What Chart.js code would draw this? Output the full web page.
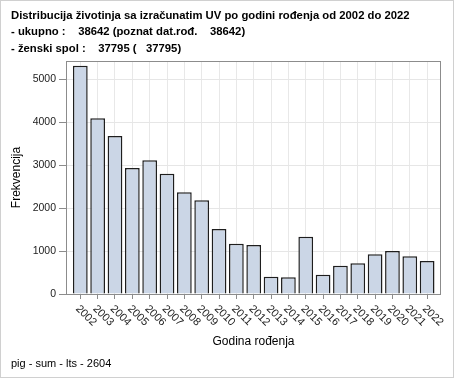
<!DOCTYPE html>
<html>
<head>
<meta charset="utf-8">
<script src="https://cdn.jsdelivr.net/npm/chart.js@4"></script>
<style>
  body { margin: 0; background: #fff; }
  canvas { display: block; }
</style>
</head>
<body>
<canvas id="chart" width="454" height="378"></canvas>
<script>
// ---------- data ----------
const years = [2002, 2003, 2004, 2005, 2006, 2007, 2008, 2009, 2010, 2011, 2012,
               2013, 2014, 2015, 2016, 2017, 2018, 2019, 2020, 2021, 2022];
const counts = [5310, 4086, 3674, 2930, 3109, 2798, 2364, 2178, 1512, 1171, 1140,
                403, 388, 1333, 449, 658, 713, 922, 1000, 876, 767];
const yTicks = [0, 1000, 2000, 3000, 4000, 5000];

const titleLines = [
  'Distribucija životinja sa izračunatim UV po godini rođenja od 2002 do 2022',
  '- ukupno :    38642 (poznat dat.rođ.    38642)',
  '- ženski spol :    37795 (   37795)'
];
const xTitle = 'Godina rođenja';
const yTitle = 'Frekvencija';
const footnote = 'pig - sum - lts - 2604';

const FONT = "'Liberation Sans', Arial, sans-serif";

/* ---------- extra drawing: titles, frame, rotated year labels ---------- */
const decorations = {
  id: 'decorations',
  afterDraw(chart){
    const ctx = chart.ctx;
    const a = chart.chartArea;
    const xs = chart.scales.x;
    ctx.save();

    // outer border
    ctx.strokeStyle = '#d0d0d0';
    ctx.lineWidth = 1;
    ctx.strokeRect(0.5, 0.5, chart.width - 1, chart.height - 1);

    // plot frame
    ctx.strokeStyle = '#8c8c8c';
    ctx.strokeRect(Math.round(a.left) + 0.5, Math.round(a.top) + 0.5,
                   Math.round(a.right - a.left) - 1, Math.round(a.bottom - a.top));

    // title
    ctx.fillStyle = '#000';
    ctx.textAlign = 'left';
    ctx.textBaseline = 'middle';
    ctx.font = 'bold 11.3px ' + FONT;
    titleLines.forEach((t, i) => ctx.fillText(t, 11, 16 + i * 16.3));

    // rotated year labels
    ctx.font = '11px ' + FONT;
    ctx.fillStyle = '#222';
    years.forEach(y => {
      const px = xs.getPixelForValue(y);
      ctx.save();
      ctx.translate(px - 3, a.bottom + 13);
      ctx.rotate(Math.PI / 4);
      ctx.fillText(String(y), 0, 0);
      ctx.restore();
    });

    // x axis title
    ctx.font = '12px ' + FONT;
    ctx.fillStyle = '#000';
    ctx.textAlign = 'center';
    ctx.fillText(xTitle, (a.left + a.right) / 2, 342);

    // footnote
    ctx.font = '11px ' + FONT;
    ctx.textAlign = 'left';
    ctx.fillText(footnote, 11, 364);

    ctx.restore();
  }
};

new Chart(document.getElementById('chart'), {
  type: 'bar',
  data: {
    datasets: [{
      data: years.map((y, i) => ({ x: y, y: counts[i] })),
      backgroundColor: '#cbd6e6',
      borderColor: '#1e1e1e',
      borderWidth: 1.5,
      barPercentage: 0.85,
      categoryPercentage: 1
    }]
  },
  options: {
    responsive: false,
    animation: false,
    layout: { padding: { top: 61, right: 13, bottom: 0, left: 0 } },
    plugins: {
      legend: { display: false },
      title: { display: false },
      tooltip: { enabled: false }
    },
    scales: {
      x: {
        type: 'linear',
        offset: false,
        min: 2001.175,
        max: 2022.8,
        afterBuildTicks(scale){ scale.ticks = years.map(v => ({ value: v })); },
        afterFit(scale){ scale.height = 84; },
        ticks: { display: false },
        grid: { offset: false, color: '#e8e8e8', tickColor: '#8c8c8c', tickLength: 5 },
        border: { display: false }
      },
      y: {
        min: 0,
        max: 5420,
        afterBuildTicks(scale){ scale.ticks = yTicks.map(v => ({ value: v })); },
        afterFit(scale){ scale.width = 66; },
        ticks: {
          color: '#222', padding: 3, font: { family: FONT, size: 10.5 },
          callback: v => String(v)
        },
        grid: { color: '#e6e6e6', tickColor: '#8c8c8c', tickLength: 7 },
        border: { display: false },
        title: {
          display: true,
          text: yTitle,
          color: '#000',
          font: { family: FONT, size: 12 },
          padding: { top: 9, bottom: 0 }
        }
      }
    }
  },
  plugins: [decorations]
});
</script>
</body>
</html>
